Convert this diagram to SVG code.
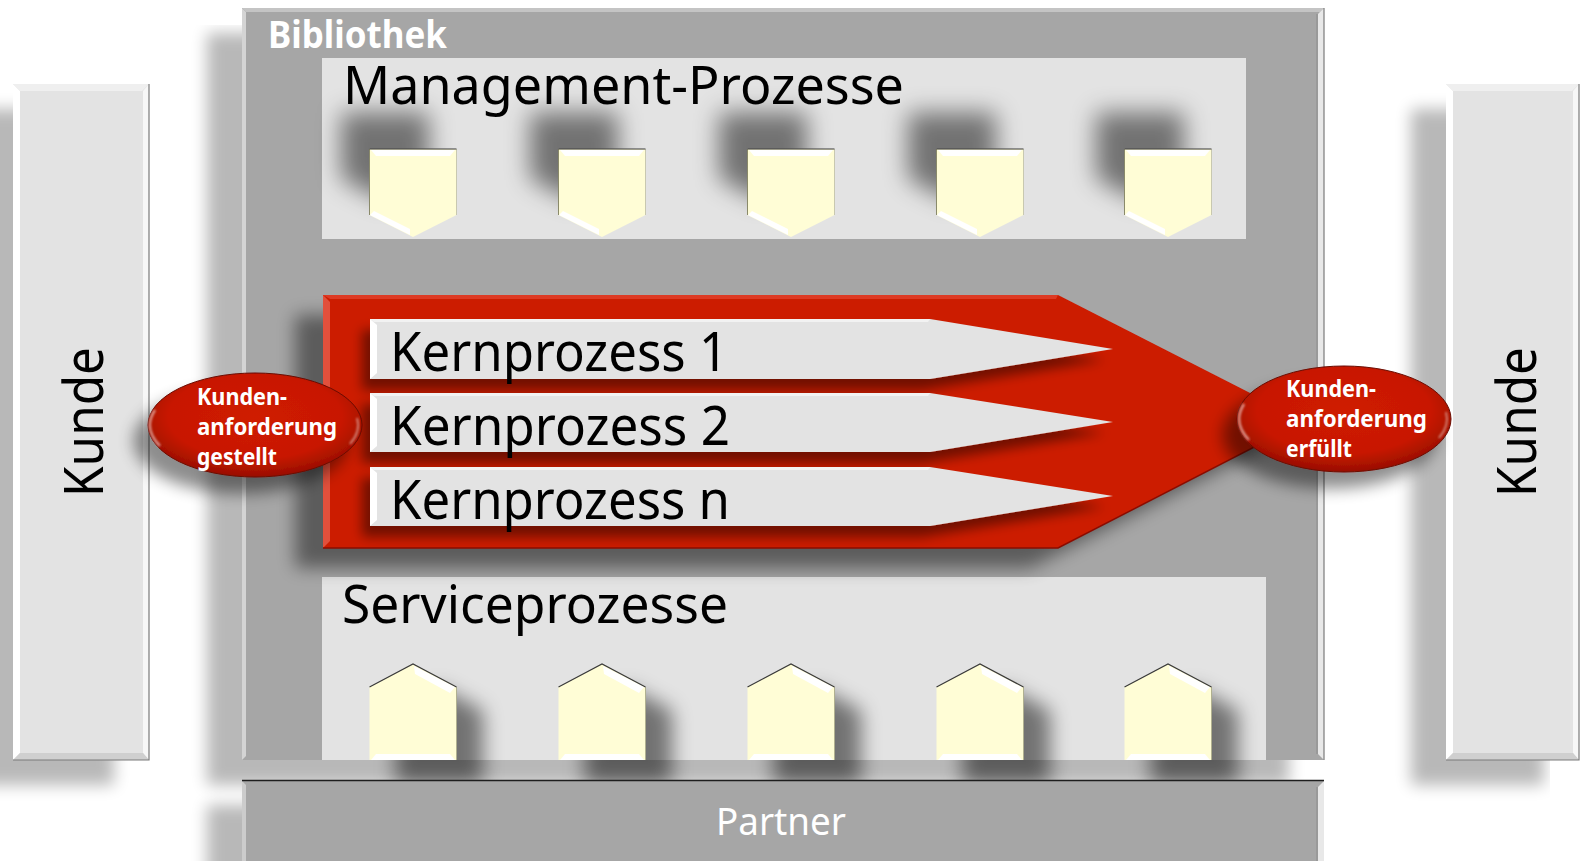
<svg xmlns="http://www.w3.org/2000/svg" width="1585" height="861" viewBox="0 0 1585 861">
<defs>
<style>
.gray{fill:#a6a6a6}
.pane{fill:#e3e3e3}
.lbl{font-family:"Noto Sans","Open Sans","DejaVu Sans",sans-serif;fill:#000}
.big{font-size:54px}
.wlbl{font-family:"Noto Sans","DejaVu Sans",sans-serif;fill:#fff;font-weight:bold}
.ell{font-size:23px}
.pent{fill:#fffdd6}
.wht{fill:#fff}
.edge{fill:none;stroke:#7a7a7a;stroke-width:1.2}
.dk{fill:none;stroke:#3a3a3a;stroke-width:1.2}
.hl{fill:none;stroke:#fff}
</style>
<filter id="shBox" filterUnits="userSpaceOnUse" x="0" y="0" width="1585" height="861">
<feGaussianBlur in="SourceAlpha" stdDeviation="8"/>
<feOffset dx="-35" dy="25"/>
<feComponentTransfer><feFuncA type="linear" slope="0.28"/></feComponentTransfer>
<feMerge><feMergeNode/><feMergeNode in="SourceGraphic"/></feMerge>
</filter>
<filter id="shMg" filterUnits="userSpaceOnUse" x="0" y="0" width="1585" height="861">
<feGaussianBlur in="SourceAlpha" stdDeviation="12"/>
<feOffset dx="-28" dy="-36"/>
<feComponentTransfer><feFuncA type="linear" slope="0.5"/></feComponentTransfer>
<feMerge><feMergeNode/><feMergeNode in="SourceGraphic"/></feMerge>
</filter>
<filter id="shSv" filterUnits="userSpaceOnUse" x="0" y="0" width="1585" height="861">
<feGaussianBlur in="SourceAlpha" stdDeviation="10"/>
<feOffset dx="26" dy="24"/>
<feComponentTransfer><feFuncA type="linear" slope="0.5"/></feComponentTransfer>
<feMerge><feMergeNode/><feMergeNode in="SourceGraphic"/></feMerge>
</filter>
<filter id="shRed" filterUnits="userSpaceOnUse" x="0" y="0" width="1585" height="861">
<feGaussianBlur in="SourceAlpha" stdDeviation="9"/>
<feOffset dx="-28" dy="20"/>
<feComponentTransfer><feFuncA type="linear" slope="0.45"/></feComponentTransfer>
<feMerge><feMergeNode/><feMergeNode in="SourceGraphic"/></feMerge>
</filter>
<filter id="shKern" filterUnits="userSpaceOnUse" x="0" y="0" width="1585" height="861">
<feGaussianBlur in="SourceAlpha" stdDeviation="6"/>
<feOffset dx="-8" dy="11"/>
<feComponentTransfer><feFuncA type="linear" slope="0.45"/></feComponentTransfer>
<feMerge><feMergeNode/><feMergeNode in="SourceGraphic"/></feMerge>
</filter>
<filter id="shEll" filterUnits="userSpaceOnUse" x="0" y="0" width="1585" height="861">
<feGaussianBlur in="SourceAlpha" stdDeviation="8"/>
<feOffset dx="-14" dy="16"/>
<feComponentTransfer><feFuncA type="linear" slope="0.45"/></feComponentTransfer>
<feMerge><feMergeNode/><feMergeNode in="SourceGraphic"/></feMerge>
</filter>
<filter id="soft" x="-20%" y="-20%" width="140%" height="140%"><feGaussianBlur stdDeviation="0.8"/></filter>
<radialGradient id="gEll" cx="50%" cy="42%" r="58%">
<stop offset="0" stop-color="#cf1b00"/>
<stop offset="0.7" stop-color="#c81800"/>
<stop offset="1" stop-color="#980e00"/>
</radialGradient>
<g id="pDown">
<polygon class="pent" points="-43.5,0 43.5,0 43.5,66 0,88 -43.5,66"/>
<polygon class="wht" points="-42,1 42,1 37,7 -37,7"/>
<polygon class="wht" points="-43,66 -3,86 -3,80 -39,62"/>
<line x1="-43.5" y1="0" x2="-43.5" y2="66" stroke="#8a8a6a" stroke-width="1"/>
<line x1="43.5" y1="0" x2="43.5" y2="66" stroke="#c8c8b0" stroke-width="1"/>
<line class="dk" x1="-43.5" y1="0" x2="43.5" y2="0"/>
</g>
<g id="pUp">
<polygon class="pent" points="-43.5,0 -43.5,-73 0,-96 43.5,-73 43.5,0"/>
<polygon class="wht" points="1,-94 42,-73 37,-67 2,-86"/>
<polygon class="wht" points="-42,0 42,0 37,-6 -37,-6"/>
<line x1="43.5" y1="-73" x2="43.5" y2="0" stroke="#b0b090" stroke-width="1"/>
<polyline class="dk" points="-43.5,-73 0,-96 43.5,-73"/>
</g>
</defs>

<rect width="1585" height="861" fill="#fff"/>

<g id="kunde-links">
<g filter="url(#shBox)">
<rect class="pane" x="13" y="84" width="136" height="676"/>
</g>
<polygon fill="#fff" points="13,84 20,91 20,753 13,760"/>
<polygon fill="#efefef" points="13,84 149,84 142,91 20,91"/>
<polygon fill="#f7f7f7" points="149,84 149,760 143,753 143,91"/>
<polygon fill="#cfcfcf" points="13,760 149,760 143,753 20,753"/>
<polyline class="edge" points="149,84 149,760 13,760"/>
<text class="lbl big" transform="translate(103,497) rotate(-90)" textLength="150" lengthAdjust="spacingAndGlyphs">Kunde</text>
</g>

<g id="kunde-rechts">
<g filter="url(#shBox)">
<rect class="pane" x="1446" y="84" width="133" height="676"/>
</g>
<polygon fill="#fff" points="1446,84 1453,91 1453,753 1446,760"/>
<polygon fill="#efefef" points="1446,84 1579,84 1572,91 1453,91"/>
<polygon fill="#f7f7f7" points="1579,84 1579,760 1573,753 1573,91"/>
<polygon fill="#cfcfcf" points="1446,760 1579,760 1573,753 1453,753"/>
<polyline class="edge" points="1579,84 1579,760 1446,760"/>
<text class="lbl big" transform="translate(1536,497) rotate(-90)" textLength="150" lengthAdjust="spacingAndGlyphs">Kunde</text>
</g>

<g id="bibliothek">
<g filter="url(#shBox)">
<rect class="gray" x="242" y="8" width="1082" height="752"/>
</g>
<polygon fill="#d4d4d4" points="242,8 246,12 246,756 242,760"/>
<polygon fill="#c4c4c4" points="242,8 1324,8 1320,12 246,12"/>
<polygon fill="#e8e8e8" points="1324,8 1324,760 1318,754 1318,14"/>
<line x1="1317" y1="14" x2="1317" y2="754" stroke="#8c8c8c" stroke-width="1"/>
<polyline class="edge" points="1324,8 1324,760"/>
<text class="wlbl" x="268" y="48" font-size="37" textLength="179" lengthAdjust="spacingAndGlyphs">Bibliothek</text>
</g>

<g id="management-prozesse">
<rect class="pane" x="322" y="58" width="924" height="181"/>
<text class="lbl" x="343" y="104" font-size="52" textLength="561" lengthAdjust="spacingAndGlyphs">Management-Prozesse</text>
<g id="mp-1" filter="url(#shMg)"><use href="#pDown" x="413" y="149"/></g>
<g id="mp-2" filter="url(#shMg)"><use href="#pDown" x="602" y="149"/></g>
<g id="mp-3" filter="url(#shMg)"><use href="#pDown" x="791" y="149"/></g>
<g id="mp-4" filter="url(#shMg)"><use href="#pDown" x="980" y="149"/></g>
<g id="mp-5" filter="url(#shMg)"><use href="#pDown" x="1168" y="149"/></g>
</g>

<g id="serviceprozesse">
<rect class="pane" x="322" y="577" width="944" height="183"/>
<text class="lbl" x="342" y="623" font-size="53" textLength="386" lengthAdjust="spacingAndGlyphs">Serviceprozesse</text>
<g id="sp-1" filter="url(#shSv)"><use href="#pUp" x="413" y="760"/></g>
<g id="sp-2" filter="url(#shSv)"><use href="#pUp" x="602" y="760"/></g>
<g id="sp-3" filter="url(#shSv)"><use href="#pUp" x="791" y="760"/></g>
<g id="sp-4" filter="url(#shSv)"><use href="#pUp" x="980" y="760"/></g>
<g id="sp-5" filter="url(#shSv)"><use href="#pUp" x="1168" y="760"/></g>
</g>

<g id="partner">
<g filter="url(#shBox)">
<rect class="gray" x="242" y="780" width="1082" height="90"/>
</g>
<polygon fill="#cccccc" points="242,781 246,785 246,861 242,861"/>
<polygon fill="#e8e8e8" points="1324,781 1324,861 1318,861 1318,787"/>
<line x1="1317" y1="787" x2="1317" y2="861" stroke="#8c8c8c" stroke-width="1"/>
<line x1="242" y1="780.5" x2="1324" y2="780.5" stroke="#1e1e1e" stroke-width="1.5"/>
<text class="lbl" x="716" y="835" font-size="38" style="fill:#fff" textLength="130" lengthAdjust="spacingAndGlyphs">Partner</text>
</g>

<g id="kernprozesse">
<g filter="url(#shRed)">
<polygon fill="#cc1a00" points="323,295 1058,295 1305,421 1058,548 323,548"/>
</g>
<polygon fill="#e2503c" points="323,295 330,302 330,541 323,548"/>
<polygon fill="#dd3a24" points="323,295 1058,295 1056,299 330,299"/>
<polyline fill="none" stroke="#8a0c00" stroke-width="1.5" points="323,548 1058,548 1305,421"/>

<g id="kernprozess-1">
<g filter="url(#shKern)"><polygon class="pane" points="370,319 930,319 1113,349 930,379 370,379"/></g>
<polygon fill="#fff" points="370,319 377,325 377,373 370,379"/>
<polygon fill="#f2f2f2" points="370,319 930,319 928,322 374,322"/>
<text class="lbl" x="390" y="371" font-size="54" textLength="338" lengthAdjust="spacingAndGlyphs">Kernprozess 1</text>
</g>
<g id="kernprozess-2">
<g filter="url(#shKern)"><polygon class="pane" points="370,393 930,393 1113,422 930,452 370,452"/></g>
<polygon fill="#fff" points="370,393 377,399 377,446 370,452"/>
<polygon fill="#f2f2f2" points="370,393 930,393 928,396 374,396"/>
<text class="lbl" x="390" y="445" font-size="54" textLength="340" lengthAdjust="spacingAndGlyphs">Kernprozess 2</text>
</g>
<g id="kernprozess-n">
<g filter="url(#shKern)"><polygon class="pane" points="370,467 930,467 1113,496 930,526 370,526"/></g>
<polygon fill="#fff" points="370,467 377,473 377,520 370,526"/>
<polygon fill="#f2f2f2" points="370,467 930,467 928,470 374,470"/>
<text class="lbl" x="390" y="519" font-size="54" textLength="340" lengthAdjust="spacingAndGlyphs">Kernprozess n</text>
</g>
</g>

<g id="anforderung-gestellt">
<g filter="url(#shEll)"><ellipse cx="255" cy="425" rx="107" ry="52" fill="url(#gEll)" stroke="#6a0a00" stroke-width="1"/></g>
<path class="hl" d="M160,446 A104,49 0 0 1 155,410" stroke-width="2.5" opacity="0.55" filter="url(#soft)"/>
<path class="hl" d="M357,418 A104,49 0 0 1 350,444" stroke-width="2" opacity="0.45" filter="url(#soft)"/>
<text class="wlbl ell">
<tspan x="197" y="405" textLength="90" lengthAdjust="spacingAndGlyphs">Kunden-</tspan>
<tspan x="197" y="435" textLength="140" lengthAdjust="spacingAndGlyphs">anforderung</tspan>
<tspan x="197" y="465" textLength="80" lengthAdjust="spacingAndGlyphs">gestellt</tspan>
</text>
</g>

<g id="anforderung-erfuellt">
<g filter="url(#shEll)"><ellipse cx="1344" cy="419" rx="107" ry="53" fill="url(#gEll)" stroke="#6a0a00" stroke-width="1"/></g>
<path class="hl" d="M1249,440 A104,50 0 0 1 1244,404" stroke-width="2.5" opacity="0.55" filter="url(#soft)"/>
<path class="hl" d="M1446,412 A104,50 0 0 1 1439,438" stroke-width="2" opacity="0.45" filter="url(#soft)"/>
<text class="wlbl ell">
<tspan x="1286" y="397" textLength="90" lengthAdjust="spacingAndGlyphs">Kunden-</tspan>
<tspan x="1286" y="427" textLength="141" lengthAdjust="spacingAndGlyphs">anforderung</tspan>
<tspan x="1286" y="457" textLength="66" lengthAdjust="spacingAndGlyphs">erfüllt</tspan>
</text>
</g>
</svg>
